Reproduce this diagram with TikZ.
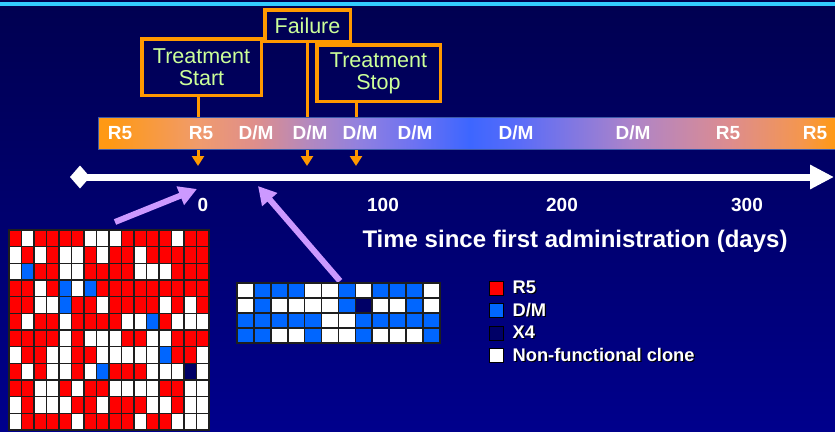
\documentclass[tikz,border=0pt]{standalone}
\usepackage{fontspec}
\setmainfont{Liberation Sans}
\usepackage{xcolor}
\usepackage{tikz}
\usetikzlibrary{arrows.meta,positioning,shapes,calc}

\definecolor{bgtop}{RGB}{0,0,80}
\definecolor{bgbot}{RGB}{0,0,140}
\definecolor{topcyan}{RGB}{51,204,255}
\definecolor{markorange}{RGB}{255,153,0}
\definecolor{boxgreen}{RGB}{204,255,153}
\definecolor{pointviolet}{RGB}{204,153,255}
\definecolor{gridline}{RGB}{30,30,30}
\definecolor{barrim}{RGB}{60,90,170}
\definecolor{clR}{RGB}{255,0,0}
\definecolor{clW}{RGB}{255,255,255}
\definecolor{clB}{RGB}{0,102,255}
\definecolor{clX}{RGB}{0,0,102}

% colours along the time bar
\definecolor{barorange}{RGB}{255,153,20}
\definecolor{barsalmon}{RGB}{240,155,110}
\definecolor{barpink}{RGB}{222,142,140}
\definecolor{barmauve}{RGB}{178,136,192}
\definecolor{barviolet}{RGB}{144,128,224}
\definecolor{barindigo}{RGB}{108,114,242}
\definecolor{barblue}{RGB}{61,102,255}
\definecolor{barbluetwo}{RGB}{90,108,248}
\definecolor{barmauvetwo}{RGB}{174,132,200}
\definecolor{barpinktwo}{RGB}{220,140,144}
\definecolor{barsalmontwo}{RGB}{244,150,80}

\pgfdeclarehorizontalshading{timebar}{100bp}{color(0bp)=(barorange); color(25.8bp)=(barorange); color(31.9bp)=(barsalmon); color(35.7bp)=(barpink); color(39.4bp)=(barmauve); color(42.8bp)=(barviolet); color(46.5bp)=(barindigo); color(50.2bp)=(barblue); color(53.6bp)=(barbluetwo); color(61.3bp)=(barmauvetwo); color(67.7bp)=(barpinktwo); color(72.6bp)=(barsalmontwo); color(75bp)=(barorange); color(100bp)=(barorange)}

\newcommand\shadowed[1]{\makebox[0pt][l]{\hspace{1.3pt}\raisebox{-1.3pt}{\textcolor{black}{#1}}}#1}

\begin{document}
\begin{tikzpicture}[x=1pt, y=-1pt,
box/.style={rectangle, draw=markorange, line width=3.5pt, text=boxgreen, font=\fontsize{21.5}{22}\selectfont, align=center, inner sep=0pt},
bar/.style={rectangle, draw=barrim, line width=0.8pt, shading=timebar, minimum width=737pt, minimum height=32pt, inner sep=0pt},
barlabel/.style={text=white, font=\bfseries\fontsize{19}{19}\selectfont, inner sep=0pt},
tick/.style={text=white, font=\bfseries\fontsize{19}{19}\selectfont, inner sep=0pt},
title/.style={text=white, font=\bfseries\fontsize{24}{24}\selectfont, inner sep=0pt},
drop/.style={draw=markorange, line width=3pt, -{Triangle[length=10pt, width=12pt]}},
timeline/.style={draw=white, line width=7pt, {Diamond[length=20pt, width=23pt]}-{Triangle[length=24pt, width=23pt]}},
pointer/.style={draw=pointviolet, line width=6pt, -{Triangle[length=18pt, width=19pt]}},
cell/.style={draw=gridline, line width=1.6pt},
legsq/.style={rectangle, draw=black, line width=0.8pt, minimum size=14pt, inner sep=0pt},
legtext/.style={text=white, font=\bfseries\fontsize{18.3}{18.3}\selectfont, inner sep=0pt}
]
\useasboundingbox (0,0) rectangle (835,431);

% Background
\shade[top color=bgtop, bottom color=bgbot] (0,0) rectangle (835,431);
\fill[topcyan] (0,2) rectangle (835,5.5);

% Marker boxes
\node[box, minimum width=119.5pt, minimum height=56.5pt] (tstart) at (201.5,67) {Treatment\\Start};
\node[box, minimum width=85.5pt, minimum height=31.5pt] (fail) at (307.5,25.5) {Failure};
\node[box, minimum width=123.5pt, minimum height=56.5pt] (tstop) at (378.5,73) {Treatment\\Stop};

% Drop lines through the bar
\coordinate (pstart) at (198,166);
\coordinate (pfail) at (307,166);
\coordinate (pstop) at (356,166);
\draw[drop] (tstart.south -| pstart) -- (pstart);
\draw[drop] (fail.south -| pfail) -- (pfail);
\draw[drop] (tstop.south -| pstop) -- (pstop);

% Tropism bar
\node[bar] (bar) at (466.5,133) {};
\foreach \x/\t [count=\i] in {120/R5, 201/R5, 256/{D/M}, 310/{D/M}, 360/{D/M}, 415/{D/M}, 516/{D/M}, 633/{D/M}, 728/R5, 815/R5}
  \node[barlabel] (lab\i) at (\x,133) {\t};

% Time axis
\coordinate (tl0) at (70,177);
\coordinate (tl1) at (834,177);
\draw[timeline] (tl0) -- (tl1);
\foreach \x/\t in {203/0, 383/100, 562/200, 747/300}
  \node[tick] (tick\t) at (\x,205) {\t};
\node[title] (axis) at (575,241) {Time since first administration (days)};

% Pointers from the clone grids
\coordinate (bigtail) at (115,222);
\coordinate (bighead) at (197,189);
\coordinate (smalltail) at (340,281);
\coordinate (smallhead) at (258,186);
\draw[pointer] (bigtail) -- (bighead);
\draw[pointer] (smalltail) -- (smallhead);

% Clones before treatment
\foreach \row [count=\r from 0] in {
  {R,W,R,R,R,R,W,W,W,R,R,R,R,W,R,R},
  {W,R,W,R,W,W,R,W,R,R,W,R,R,R,R,R},
  {W,B,R,R,W,W,R,R,R,R,W,W,W,R,R,R},
  {R,R,W,R,B,W,B,R,R,R,R,R,R,R,R,R},
  {R,R,W,W,B,R,R,W,R,R,R,R,W,R,W,R},
  {R,W,R,R,W,R,R,R,R,W,W,B,R,W,W,W},
  {R,R,R,R,W,R,W,W,W,R,R,W,W,R,R,R},
  {W,R,R,W,W,R,R,W,W,W,W,W,B,R,R,W},
  {R,W,R,W,W,R,W,B,R,R,R,W,W,W,X,W},
  {R,R,W,W,R,W,R,R,W,W,W,W,R,R,W,W},
  {W,R,W,W,W,R,R,W,R,R,R,W,W,R,W,W},
  {W,R,R,R,R,W,R,R,R,R,W,R,R,W,W,W}} {
  \foreach \c [count=\k from 0] in \row
    \filldraw[cell, fill=cl\c] (9+\k*12.5, 230+\r*16.667) rectangle ++(12.5,16.667);
}

% Clones at failure
\foreach \row [count=\r from 0] in {
  {W,B,B,B,W,W,B,W,B,B,B,W},
  {W,B,W,W,W,W,B,X,W,W,B,W},
  {B,B,B,B,B,W,W,B,B,B,B,B},
  {B,B,W,W,B,W,W,B,W,W,W,B}} {
  \foreach \c [count=\k from 0] in \row
    \filldraw[cell, fill=cl\c] (237+\k*16.9, 283+\r*15) rectangle ++(16.9,15);
}

% Legend
\node[legsq, fill=clR] (legr5) at (496.5,288) {};
\node[legsq, fill=clB, below=7.7pt of legr5] (legdm) {};
\node[legsq, fill=clX, below=7.7pt of legdm] (legx4) {};
\node[legsq, fill=clW, below=7.7pt of legx4] (legnf) {};
\node[legtext, right=8.5pt of legr5] (txtr5) {\shadowed{R5}};
\node[legtext, right=8.5pt of legdm] (txtdm) {\shadowed{D/M}};
\node[legtext, right=8.5pt of legx4] (txtx4) {\shadowed{X4}};
\node[legtext, right=8.5pt of legnf] (txtnf) {\shadowed{Non-functional clone}};

\end{tikzpicture}
\end{document}
